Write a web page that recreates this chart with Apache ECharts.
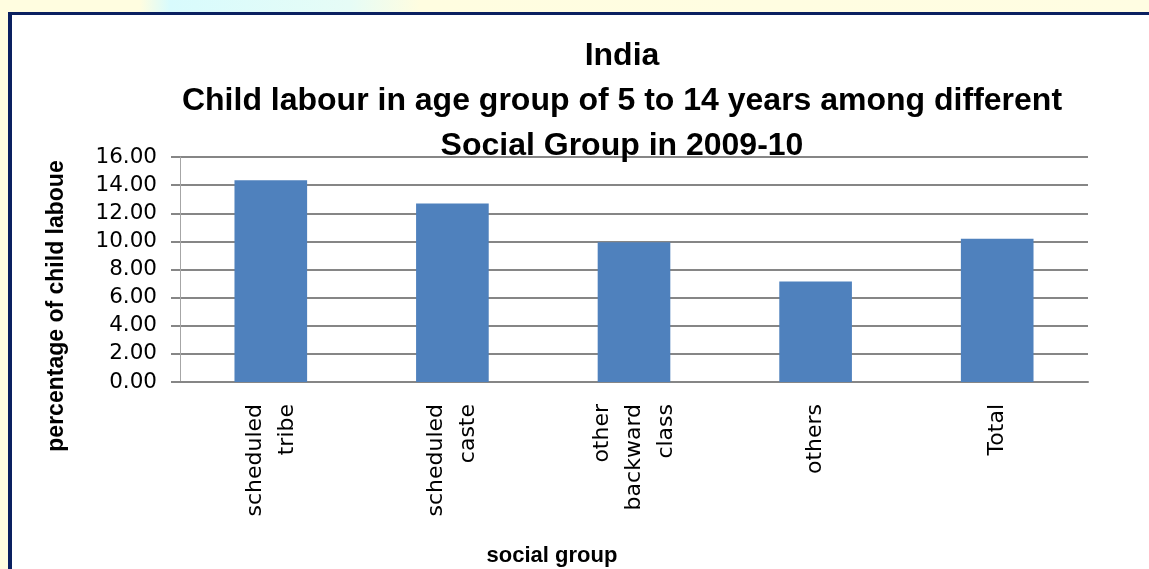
<!DOCTYPE html>
<html>
<head>
<meta charset="utf-8">
<script src="https://cdn.jsdelivr.net/npm/echarts@6/dist/echarts.min.js"></script>
<style>
  html, body { margin: 0; padding: 0; }
  body {
    width: 1149px; height: 569px; overflow: hidden; position: relative;
    background: linear-gradient(90deg, #fffde0 0px, #fffde0 140px, #d8fbfd 170px, #e6fcf6 350px, #fffde0 420px, #fffde2 1149px);
  }
  #frame {
    position: absolute; left: 8px; top: 12px; right: 0; bottom: 0;
    background: #ffffff;
    border-top: 3px solid #0a2060;
    border-left: 4px solid #0a2060;
  }
  #main { position: absolute; left: 0; top: 0; width: 1149px; height: 569px; }
</style>
</head>
<body>
<div id="frame"></div>
<div id="main"></div>
<script>
// data
var categories = ["scheduled\ntribe", "scheduled\ncaste", "other\nbackward\nclass", "others", "Total"];
var childLabour = [14.35, 12.7, 9.93, 7.15, 10.18];
var yTicks = { min: 0, max: 16, interval: 2 };

var chart = echarts.init(document.getElementById("main"), null, { renderer: "canvas" });

var option = {
  backgroundColor: "transparent",
  animation: false,
  title: [
    {
      text: "India\nChild labour in age group of 5 to 14 years among different\nSocial Group in 2009-10",
      left: 617,
      top: 29,
      textAlign: "center",
      textStyle: {
        fontFamily: "Liberation Sans",
        fontWeight: "bold",
        fontSize: 32,
        lineHeight: 45,
        color: "#000"
      }
    },
    {
      // x axis title (sits left of plot centre in the original)
      text: "social group",
      left: 547,
      top: 540,
      textAlign: "center",
      textStyle: { fontFamily: "Liberation Sans", fontWeight: "bold", fontSize: 22, color: "#000" }
    }
  ],
  graphic: [
    {
      // y axis title, centred lower than the plot in the original
      type: "text",
      x: 57,
      y: 306,
      rotation: Math.PI / 2,
      style: {
        text: "percentage of child laboue",
        fontFamily: "Liberation Sans",
        fontWeight: "bold",
        fontSize: 23,
        fill: "#000",
        align: "center",
        verticalAlign: "middle"
      }
    }
  ],
  grid: {
    left: 180,
    right: 61,
    top: 157,
    bottom: 187,
    containLabel: false
  },
  xAxis: {
    type: "category",
    data: categories,
    axisLine: { lineStyle: { color: "#868686", width: 2 } },
    axisTick: { show: false },
    axisLabel: {
      rotate: 90,
      margin: 22,
      interval: 0,
      fontFamily: "DejaVu Sans",
      fontSize: 22,
      lineHeight: 32,
      color: "#000"
    }
  },
  yAxis: {
    type: "value",
    min: yTicks.min,
    max: yTicks.max,
    interval: yTicks.interval,
    axisLine: { show: true, lineStyle: { color: "#a6a6a6", width: 1 } },
    axisTick: { show: true, length: 9, lineStyle: { color: "#868686", width: 2 } },
    axisLabel: {
      margin: 23,
      fontFamily: "DejaVu Sans",
      fontSize: 21.5,
      color: "#000",
      formatter: function (v) { return v.toFixed(2); }
    },
    splitLine: { lineStyle: { color: "#868686", width: 2 } }
  },
  series: [
    {
      type: "bar",
      data: childLabour,
      barWidth: "40%",
      itemStyle: { color: "#4f81bd" }
    }
  ]
};

chart.setOption(option);
</script>
</body>
</html>
